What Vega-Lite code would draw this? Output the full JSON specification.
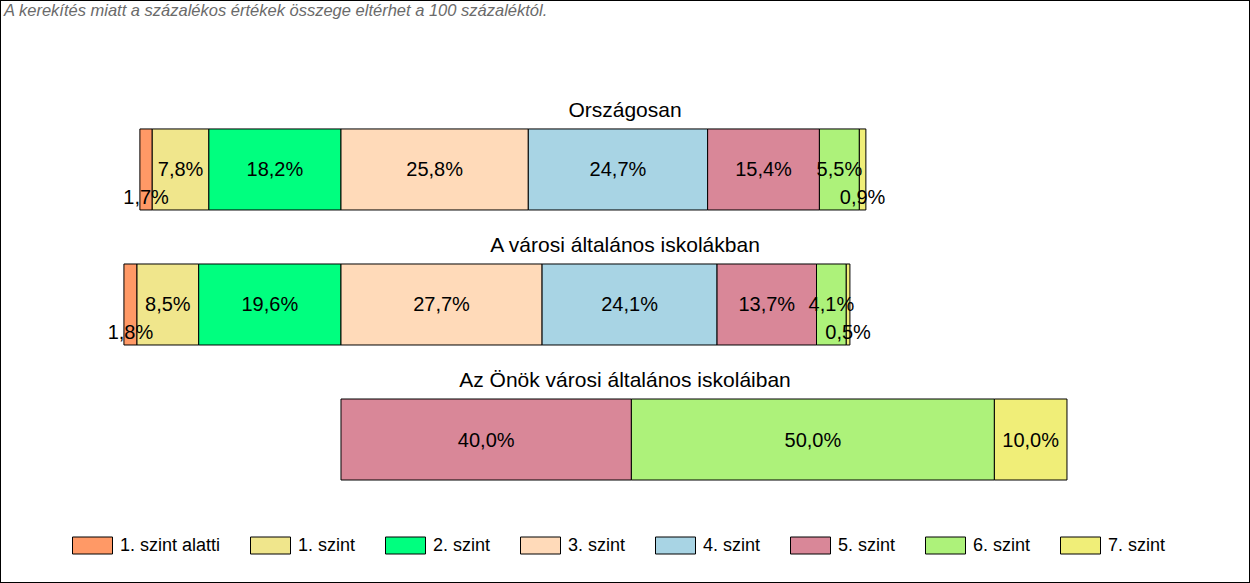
{
  "$schema": "https://vega.github.io/schema/vega-lite/v6.json",
  "width": 1250,
  "height": 583,
  "autosize": {"type": "fit", "contains": "padding"},
  "padding": 0,
  "background": "white",
  "title": {
    "text": "A kerekítés miatt a  százalékos értékek összege eltérhet a 100 százaléktól.",
    "anchor": "start",
    "frame": "group",
    "offset": -19,
    "dx": 4,
    "fontSize": 16.5,
    "fontStyle": "italic",
    "fontWeight": "normal",
    "font": "Liberation Sans",
    "color": "#6a6a6a"
  },
  "data": {
    "values": [
      {"group": "Országosan", "k": 0, "level": "1. szint alatti", "value": 1.7},
      {"group": "Országosan", "k": 1, "level": "1. szint", "value": 7.8},
      {"group": "Országosan", "k": 2, "level": "2. szint", "value": 18.2},
      {"group": "Országosan", "k": 3, "level": "3. szint", "value": 25.8},
      {"group": "Országosan", "k": 4, "level": "4. szint", "value": 24.7},
      {"group": "Országosan", "k": 5, "level": "5. szint", "value": 15.4},
      {"group": "Országosan", "k": 6, "level": "6. szint", "value": 5.5},
      {"group": "Országosan", "k": 7, "level": "7. szint", "value": 0.9},
      {"group": "A városi általános iskolákban", "k": 0, "level": "1. szint alatti", "value": 1.8},
      {"group": "A városi általános iskolákban", "k": 1, "level": "1. szint", "value": 8.5},
      {"group": "A városi általános iskolákban", "k": 2, "level": "2. szint", "value": 19.6},
      {"group": "A városi általános iskolákban", "k": 3, "level": "3. szint", "value": 27.7},
      {"group": "A városi általános iskolákban", "k": 4, "level": "4. szint", "value": 24.1},
      {"group": "A városi általános iskolákban", "k": 5, "level": "5. szint", "value": 13.7},
      {"group": "A városi általános iskolákban", "k": 6, "level": "6. szint", "value": 4.1},
      {"group": "A városi általános iskolákban", "k": 7, "level": "7. szint", "value": 0.5},
      {"group": "Az Önök városi általános iskoláiban", "k": 5, "level": "5. szint", "value": 40.0},
      {"group": "Az Önök városi általános iskoláiban", "k": 6, "level": "6. szint", "value": 50.0},
      {"group": "Az Önök városi általános iskoláiban", "k": 7, "level": "7. szint", "value": 10.0}
    ]
  },
  "transform": [
    {"stack": "value", "groupby": ["group"], "sort": [{"field": "k", "order": "ascending"}], "as": ["s0", "s1"]},
    {"calculate": "datum.k < 3 ? datum.value : 0", "as": "lv"},
    {"joinaggregate": [{"op": "sum", "field": "lv", "as": "left"}], "groupby": ["group"]},
    {"calculate": "datum.s0 - datum.left", "as": "x0"},
    {"calculate": "datum.s1 - datum.left", "as": "x1"},
    {"calculate": "(datum.x0 + datum.x1) / 2", "as": "xm"},
    {"calculate": "replace(format(datum.value, '.1f'), '.', ',') + '%'", "as": "lab"}
  ],
  "encoding": {
    "y": {
      "field": "group",
      "type": "nominal",
      "axis": null,
      "scale": {
        "domain": ["Országosan", "A városi általános iskolákban", "Az Önök városi általános iskoláiban"],
        "paddingInner": 0.4,
        "paddingOuter": 0.859,
        "align": 0.556
      }
    }
  },
  "layer": [
    {
      "mark": {"type": "bar", "stroke": "black", "strokeWidth": 1, "opacity": 1},
      "encoding": {
        "x": {"field": "x0", "type": "quantitative", "axis": null, "scale": {"domain": [-46.97, 125.21], "nice": false, "zero": false}},
        "x2": {"field": "x1"},
        "color": {
          "field": "level",
          "type": "nominal",
          "scale": {
            "domain": ["1. szint alatti", "1. szint", "2. szint", "3. szint", "4. szint", "5. szint", "6. szint", "7. szint"],
            "range": ["#FF9966", "#F0E68C", "#00FF7F", "#FFDAB9", "#A8D4E4", "#D98798", "#ADF27A", "#F0EE78"]
          },
          "legend": {
            "orient": "none",
            "legendX": 72,
            "legendY": 525,
            "direction": "horizontal",
            "title": null,
            "symbolType": "M-1,-0.425H1V0.425H-1Z",
            "symbolSize": 1600,
            "symbolStrokeColor": "black",
            "symbolStrokeWidth": 1,
            "symbolOpacity": 1,
            "labelFont": "Liberation Sans",
            "labelFontSize": 18,
            "labelColor": "black",
            "labelOffset": 7,
            "columnPadding": 27,
            "labelLimit": 300
          }
        }
      }
    },
    {
      "transform": [{"filter": "datum.value >= 2"}],
      "mark": {"type": "text", "font": "Liberation Sans", "fontSize": 20, "color": "black", "baseline": "middle", "align": "center", "dy": 1},
      "encoding": {
        "x": {"field": "xm", "type": "quantitative"},
        "text": {"field": "lab"}
      }
    },
    {
      "transform": [{"filter": "datum.value < 2"}],
      "mark": {"type": "text", "font": "Liberation Sans", "fontSize": 20, "color": "black", "baseline": "middle", "align": "center", "dy": 29},
      "encoding": {
        "x": {"field": "xm", "type": "quantitative"},
        "text": {"field": "lab"}
      }
    },
    {
      "transform": [{"aggregate": [{"op": "count", "as": "n"}], "groupby": ["group"]}],
      "mark": {"type": "text", "font": "Liberation Sans", "fontSize": 21, "color": "black", "baseline": "alphabetic", "align": "center", "dy": -12, "x": {"expr": "width / 2"}},
      "encoding": {
        "y": {"field": "group", "type": "nominal", "bandPosition": 0},
        "text": {"field": "group"}
      }
    }
  ],
  "config": {
    "view": {"stroke": "black", "strokeWidth": 2}
  }
}
